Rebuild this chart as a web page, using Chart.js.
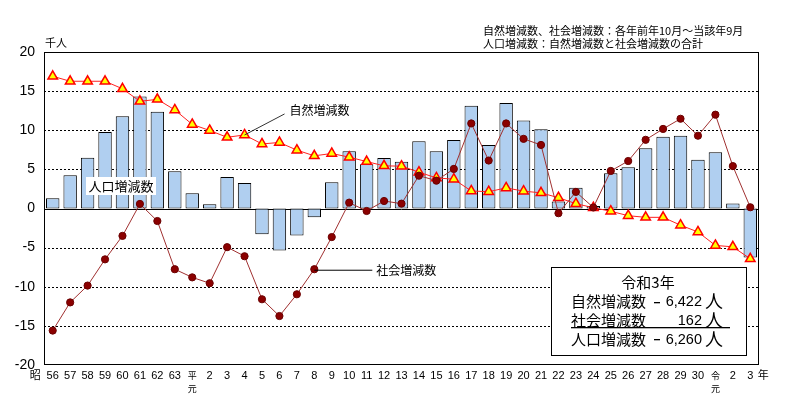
<!DOCTYPE html>
<html><head><meta charset="utf-8">
<script src="https://cdn.jsdelivr.net/npm/chart.js@4"></script>
<style>html,body{margin:0;padding:0;background:#fff;} #wrap{width:797px;height:397px;position:relative;}</style>
</head><body><div id="wrap"><canvas id="c" width="797" height="397"></canvas></div>
<script>
const categories = ['56','57','58','59','60','61','62','63',['平','元'],'2','3','4','5','6','7','8','9','10','11','12','13','14','15','16','17','18','19','20','21','22','23','24','25','26','27','28','29','30',['令','元'],'2','3'];
const naturalChange = [16.9,16.26,16.26,16.26,15.3,13.7,13.95,12.6,10.75,9.97,9.1,9.4,8.25,8.44,7.46,6.73,7.03,6.56,6.0,5.45,5.41,4.64,3.91,3.74,2.24,2.15,2.63,2.22,2.0,1.38,0.62,0.1,-0.35,-0.92,-1.13,-1.13,-2.13,-3.0,-4.72,-4.9,-6.422];
const socialChange = [-15.6,-12.0,-9.85,-6.5,-3.5,0.58,-1.6,-7.76,-8.8,-9.55,-4.94,-6.1,-11.6,-13.74,-10.96,-7.76,-3.65,0.75,-0.32,0.96,0.62,4.2,3.56,5.06,10.87,6.13,10.87,8.9,8.12,-0.6,2.12,0.13,4.8,6.07,8.78,10.17,11.47,9.3,11.99,5.42,0.162];
const populationChange = [1.3,4.26,6.47,9.77,11.8,14.3,12.37,4.77,1.95,0.53,4.04,3.27,-3.3,-5.36,-3.44,-1.13,3.36,7.33,5.67,6.44,5.96,8.6,7.33,8.74,13.14,8.1,13.49,11.26,10.13,0.9,2.64,0.33,4.49,5.26,7.69,9.18,9.31,6.23,7.18,0.64,-6.26];
const yTicks = [-20,-15,-10,-5,0,5,10,15,20];
const seriesNames = ['自然増減数','社会増減数','人口増減数'];
const noteLines = ['自然増減数、社会増減数：各年前年10月～当該年9月','人口増減数：自然増減数と社会増減数の合計'];
const summaryTitle = '令和3年';
const summaryValues = [-6422, 162, -6260];
const unitLabel = '千人';
const eraStart = '昭';
const yearSuffix = '年';
const personUnit = '人';

const CJK = '"Noto Sans CJK JP", sans-serif';
const NUM = '"Liberation Sans", "Noto Sans CJK JP", sans-serif';

const decor = {
  id: 'decor',
  beforeDatasetsDraw(chart) {
    const {ctx, chartArea: a, scales: {y}} = chart;
    ctx.save();
    ctx.strokeStyle = '#000'; ctx.lineWidth = 1;
    yTicks.forEach(v => {
      if (v === yTicks[0] || v === yTicks[yTicks.length - 1]) return;
      const py = Math.round(y.getPixelForValue(v)) + 0.5;
      ctx.setLineDash(v === 0 ? [] : [2, 2]);
      ctx.beginPath(); ctx.moveTo(a.left, py); ctx.lineTo(a.right, py); ctx.stroke();
    });
    ctx.restore();
  },
  afterDatasetsDraw(chart) {
    const {ctx, chartArea: a, scales: {x, y}} = chart;
    ctx.save();
    ctx.setLineDash([]);
    ctx.strokeStyle = '#000'; ctx.lineWidth = 1;
    // frame
    ctx.strokeRect(Math.round(a.left) + 0.5, Math.round(a.top) + 0.5, Math.round(a.width) - 1, Math.round(a.height) - 1);
    ctx.fillStyle = '#000';
    ctx.textBaseline = 'middle';
    // unit
    ctx.font = '11px ' + CJK; ctx.textAlign = 'left';
    ctx.fillText(unitLabel, 45, 43);
    // notes
    ctx.fillText(noteLines[0], 483, 31);
    ctx.fillText(noteLines[1], 483, 44);
    // era start and year suffix
    ctx.textAlign = 'center';
    const cw = x.getPixelForValue(1) - x.getPixelForValue(0);
    ctx.fillText(eraStart, x.getPixelForValue(0) - cw, 375);
    ctx.fillText(yearSuffix, x.getPixelForValue(categories.length - 1) + 13, 375);
    // 自然増減数 annotation
    const ni = 11;
    const nx = x.getPixelForValue(ni), ny = y.getPixelForValue(naturalChange[ni]);
    ctx.strokeStyle = '#333';
    ctx.beginPath(); ctx.moveTo(nx, ny); ctx.lineTo(nx + 40, ny - 21); ctx.stroke();
    ctx.font = '12px ' + CJK; ctx.textAlign = 'left';
    ctx.fillText(seriesNames[0], nx + 45, ny - 25);
    // 社会増減数 annotation
    const si = 15;
    const sx = x.getPixelForValue(si), sy = y.getPixelForValue(socialChange[si]);
    ctx.strokeStyle = '#000';
    ctx.beginPath(); ctx.moveTo(sx, sy + 1); ctx.lineTo(sx + 58, sy + 1); ctx.stroke();
    ctx.fillText(seriesNames[1], sx + 62, sy + 1.5);
    // 人口増減数 label
    ctx.fillStyle = '#fff';
    ctx.fillRect(86, 177, 70, 18);
    ctx.fillStyle = '#000';
    ctx.font = '13px ' + CJK; ctx.textAlign = 'center';
    ctx.fillText(seriesNames[2], 121, 186);
    // summary box
    ctx.fillStyle = '#fff';
    ctx.fillRect(551, 267, 196, 89);
    ctx.strokeStyle = '#000';
    ctx.strokeRect(551.5, 267.5, 195, 88);
    ctx.fillStyle = '#000';
    ctx.font = '15px ' + CJK;
    ctx.textAlign = 'center';
    ctx.fillText(summaryTitle, 648, 282);
    const rowsY = [301.5, 320, 339];
    summaryValues.forEach((v, k) => {
      ctx.font = '15px ' + CJK;
      ctx.textAlign = 'left';
      ctx.fillText(seriesNames[k], 571, rowsY[k]);
      ctx.font = '14.5px ' + NUM;
      ctx.textAlign = 'right';
      ctx.fillText(Math.abs(v).toLocaleString('en-US'), 702, rowsY[k] + 0.5);
      ctx.font = '18px ' + CJK;
      ctx.textAlign = 'center';
      ctx.fillText(personUnit, 714, rowsY[k]);
      if (v < 0) { ctx.fillRect(654, Math.round(rowsY[k]), 6, 1.3); }
    });
    ctx.fillRect(571, 327, 159, 1.3);
    ctx.restore();
  }
};

new Chart(document.getElementById('c'), {
  data: {
    labels: categories,
    datasets: [
      {type: 'line', label: seriesNames[1], data: socialChange, order: 1, borderColor: '#a03030', borderWidth: 1,
       pointStyle: 'circle', pointRadius: 3.6, pointBackgroundColor: '#8b0000', pointBorderColor: '#6a0000', pointBorderWidth: 1, tension: 0},
      {type: 'line', label: seriesNames[0], data: naturalChange, order: 2, borderColor: '#ff2020', borderWidth: 1,
       pointStyle: 'triangle', pointRadius: 5.5, pointBackgroundColor: '#ffff00', pointBorderColor: '#ff0000', pointBorderWidth: 1.5, tension: 0},
      {type: 'bar', label: seriesNames[2], data: populationChange, order: 3, backgroundColor: '#b0cff0', borderColor: '#000',
       borderWidth: 1, borderSkipped: false, categoryPercentage: 1, barPercentage: 0.77}
    ]
  },
  options: {
    responsive: false, animation: false, devicePixelRatio: 1,
    layout: {padding: {left: 0, right: 38, top: 52, bottom: 0}},
    plugins: {legend: {display: false}, tooltip: {enabled: false}},
    scales: {
      x: {type: 'category', offset: true, grid: {display: false, drawTicks: false}, border: {display: false},
          ticks: {autoSkip: false, maxRotation: 0, minRotation: 0, padding: 4, color: '#000',
                  font: (c) => Array.isArray(categories[c.index]) ? {size: 9, family: CJK, lineHeight: '13px'} : {size: 11, family: NUM, lineHeight: '13px'}},
          afterFit(s) { s.height = 32; }},
      y: {min: -20, max: 20, grid: {display: false, drawTicks: false}, border: {display: false},
          ticks: {stepSize: 5, padding: 9, color: '#000', font: {size: 14, family: NUM}},
          afterFit(s) { s.width = 44; }}
    }
  },
  plugins: [decor]
});
</script></body></html>
